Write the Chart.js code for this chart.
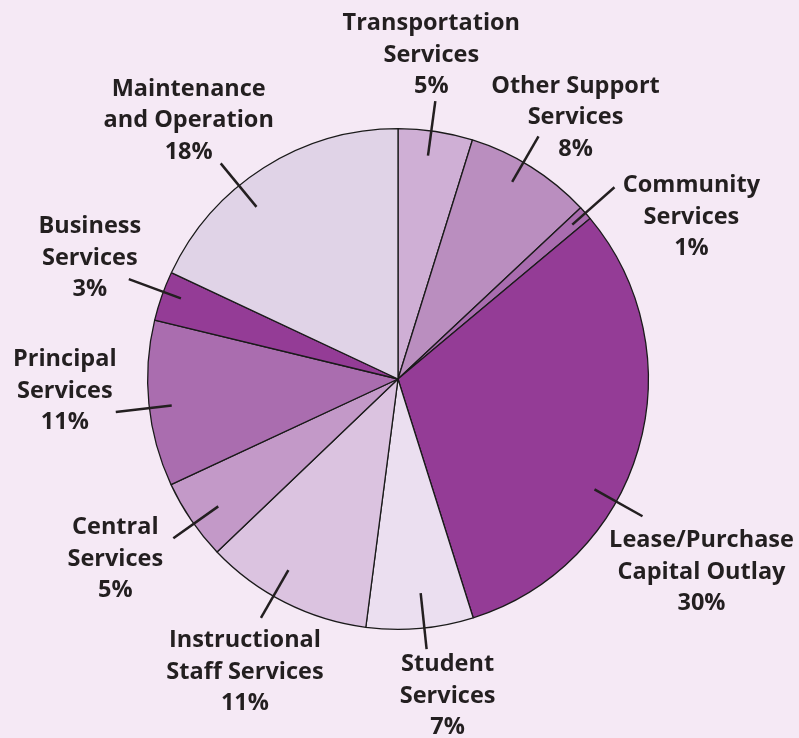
<!DOCTYPE html>
<html>
<head>
<meta charset="utf-8">
<script src="https://cdn.jsdelivr.net/npm/chart.js@4/dist/chart.umd.min.js"></script>
<style>
    body { margin: 0; background: #f5e9f5; }
    #wrap { width: 799px; height: 738px; position: relative; }
</style>
</head>
<body>
<div id="wrap"><canvas id="myChart" width="799" height="738"></canvas></div>
<script>
// slices, clockwise from 12 o'clock
var categories = [
    ["Transportation", "Services"],
    ["Other Support", "Services"],
    ["Community", "Services"],
    ["Lease/Purchase", "Capital Outlay"],
    ["Student", "Services"],
    ["Instructional", "Staff Services"],
    ["Central", "Services"],
    ["Principal", "Services"],
    ["Business", "Services"],
    ["Maintenance", "and Operation"]
];
var shares = [4.8, 8.2, 0.9, 31.2, 6.9, 10.8, 5.2, 10.7, 3.2, 18.0];
var shareLabels = ["5%", "8%", "1%", "30%", "7%", "11%", "5%", "11%", "3%", "18%"];
var colors = ["#cfafd5", "#ba8ebf", "#a96caf", "#943c96", "#ebdff0",
              "#dbc3e0", "#c399c8", "#aa6daf", "#943c96", "#e0d3e7"];

// label layout: leader angle shift (deg), leader radii (fraction of radius),
// text offset from leader end (px)
var leaderShift = [-1, -2, 0, 13, -1, 3, -1, -1, 1, -7];
var leaderIn = [0.90, 0.91, 0.93, 0.90, 0.86, 0.88, 0.88, 0.91, 0.925, 0.89];
var leaderOut = [1.12, 1.12, 1.155, 1.12, 1.085, 1.10, 1.10, 1.135, 1.147, 1.115];
var textOffset = [[-4, -46], [37, -19], [77, 30], [59, 56], [21, 47],
                  [-16, 54], [-58, 21], [-51, -21], [-39, -21], [-32, -43]];

var leaderPlugin = {
    id: "leaders",
    afterDatasetsDraw: function(chart) {
        var ctx = chart.ctx;
        var arcs = chart.getDatasetMeta(0).data;
        ctx.save();
        arcs.forEach(function(arc, i) {
            var mid = (arc.startAngle + arc.endAngle) / 2 + leaderShift[i] * Math.PI / 180;
            var r = arc.outerRadius;
            var x1 = arc.x + Math.cos(mid) * r * leaderIn[i];
            var y1 = arc.y + Math.sin(mid) * r * leaderIn[i];
            var x2 = arc.x + Math.cos(mid) * r * leaderOut[i];
            var y2 = arc.y + Math.sin(mid) * r * leaderOut[i];
            ctx.strokeStyle = "#231f20";
            ctx.lineWidth = 2.5;
            ctx.beginPath();
            ctx.moveTo(x1, y1);
            ctx.lineTo(x2, y2);
            ctx.stroke();

            var lines = categories[i].concat([shareLabels[i]]);
            var cx = x2 + textOffset[i][0];
            var cy = y2 + textOffset[i][1];
            ctx.fillStyle = "#231f20";
            ctx.font = "bold 23.5px 'Open Sans'";
            ctx.textAlign = "center";
            ctx.textBaseline = "middle";
            lines.forEach(function(t, k) {
                ctx.fillText(t, cx, cy + (k - 1) * 31.5);
            });
        });
        ctx.restore();
    }
};

var ctx = document.getElementById("myChart").getContext("2d");
var myPieChart = new Chart(ctx, {
    type: "pie",
    data: {
        labels: categories.map(function(c) { return c.join(" "); }),
        datasets: [{
            data: shares,
            backgroundColor: colors,
            borderColor: "#1a1a1a",
            borderWidth: 1.3
        }]
    },
    options: {
        responsive: false,
        animation: false,
        layout: { padding: { left: 147, right: 150, top: 128, bottom: 108 } },
        plugins: {
            legend: { display: false },
            tooltip: { enabled: false }
        }
    },
    plugins: [leaderPlugin]
});
</script>
</body>
</html>
